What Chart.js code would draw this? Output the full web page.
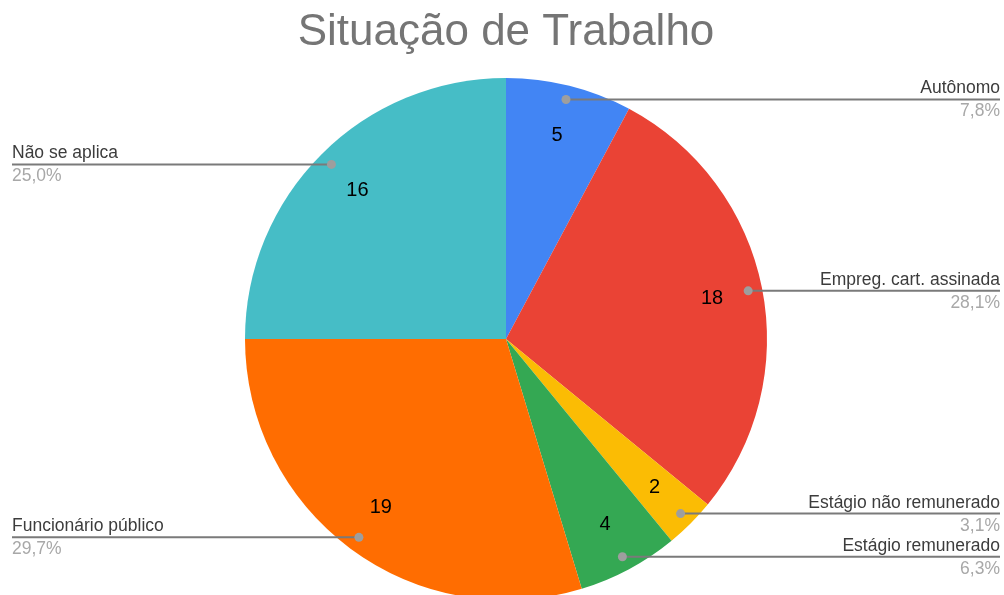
<!DOCTYPE html>
<html>
<head>
<meta charset="utf-8">
<script src="https://cdn.jsdelivr.net/npm/chart.js@4.4.1/dist/chart.umd.min.js"></script>
<style>
  html, body { margin: 0; padding: 0; background: #fff; overflow: hidden; }
  #wrap { width: 1004px; height: 595px; overflow: hidden; }
</style>
</head>
<body>
<div id="wrap"><canvas id="myChart" width="1004" height="700"></canvas></div>
<script>
// chart data
const title = "Situação de Trabalho";
const categories = [
  "Autônomo",
  "Empreg. cart. assinada",
  "Estágio não remunerado",
  "Estágio remunerado",
  "Funcionário público",
  "Não se aplica",
];
const counts = [5, 18, 2, 4, 19, 16];
const sliceColors = ["#4285f4", "#ea4335", "#fbbc04", "#34a853", "#ff6d01", "#46bdc6"];

const total = counts.reduce((a, b) => a + b, 0);

// draws title, value labels and the leader lines with their labels
const calloutPlugin = {
  id: "callouts",
  afterDraw(chart) {
    const ctx = chart.ctx;
    const W = chart.width;
    ctx.save();

    // title
    ctx.fillStyle = "#757575";
    ctx.font = "44px 'Liberation Sans', Arial, sans-serif";
    ctx.textAlign = "center";
    ctx.textBaseline = "alphabetic";
    ctx.fillText(title, 506, 45);

    const arcs = chart.getDatasetMeta(0).data;
    arcs.forEach((arc, i) => {
      const p = arc.getProps(["x", "y", "startAngle", "endAngle", "outerRadius"], true);
      const mid = (p.startAngle + p.endAngle) / 2;

      // value inside slice
      const vr = p.outerRadius * 0.805;
      ctx.fillStyle = "#000";
      ctx.font = "20px 'Liberation Sans', Arial, sans-serif";
      ctx.textAlign = "center";
      ctx.textBaseline = "middle";
      ctx.fillText(String(counts[i]), p.x + Math.cos(mid) * vr, p.y + Math.sin(mid) * vr);

      // leader line
      const dr = p.outerRadius * 0.946;
      const dx = p.x + Math.cos(mid) * dr;
      const dy = p.y + Math.sin(mid) * dr;
      const left = Math.cos(mid) < 0;
      const endX = left ? 12 : W - 4;

      ctx.strokeStyle = "#7a7a7a";
      ctx.lineWidth = 2;
      ctx.beginPath();
      ctx.moveTo(dx, dy);
      ctx.lineTo(endX, dy);
      ctx.stroke();

      ctx.fillStyle = "#9e9e9e";
      ctx.beginPath();
      ctx.arc(dx, dy, 4.5, 0, Math.PI * 2);
      ctx.fill();

      // category + percentage
      const pct = ((counts[i] / total) * 100).toFixed(1).replace(".", ",") + "%";
      ctx.font = "17.5px 'Liberation Sans', Arial, sans-serif";
      ctx.textAlign = left ? "left" : "right";
      ctx.textBaseline = "alphabetic";
      ctx.fillStyle = "#3c3c3c";
      ctx.fillText(categories[i], endX, dy - 6);
      ctx.fillStyle = "#a8a8a8";
      ctx.fillText(pct, endX, dy + 17);
    });

    ctx.restore();
  },
};

new Chart(document.getElementById("myChart"), {
  type: "pie",
  data: {
    labels: categories,
    datasets: [
      {
        data: counts,
        backgroundColor: sliceColors,
        borderWidth: 0,
      },
    ],
  },
  options: {
    responsive: false,
    animation: false,
    devicePixelRatio: 1,
    layout: { padding: { left: 245, right: 237, top: 78, bottom: 100 } },
    plugins: {
      legend: { display: false },
      tooltip: { enabled: false },
      title: { display: false },
    },
  },
  plugins: [calloutPlugin],
});
</script>
</body>
</html>
